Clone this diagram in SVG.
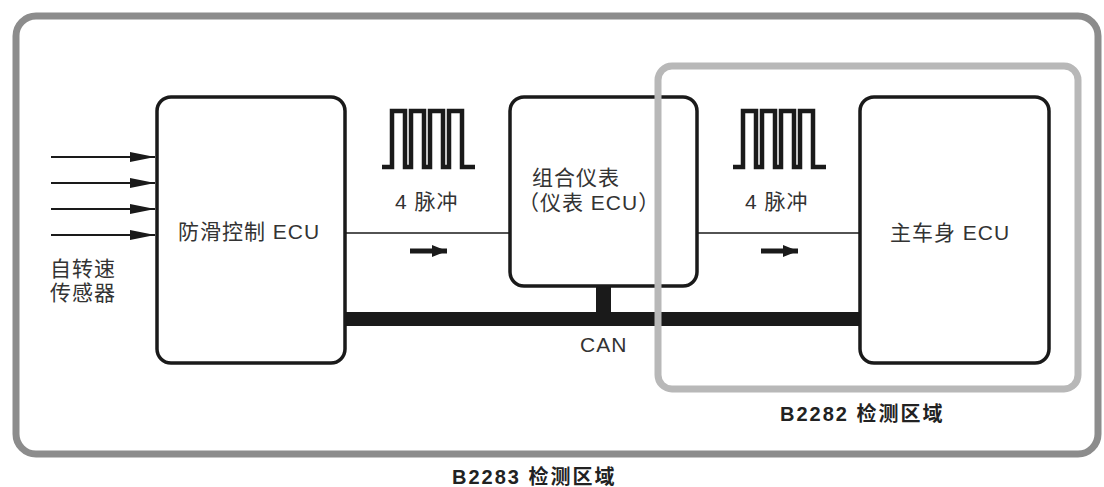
<svg xmlns="http://www.w3.org/2000/svg" width="1104" height="487" viewBox="0 0 1104 487">
<style>
.box{fill:#fff;stroke:#1a1a1a;stroke-width:3.5}
.t{font-family:"Liberation Sans","Noto Sans CJK SC",sans-serif;fill:#333;font-size:21px;letter-spacing:1px}
.b{font-family:"Liberation Sans","Noto Sans CJK SC",sans-serif;fill:#222;font-size:20px;font-weight:bold;letter-spacing:2px}
.in{stroke:#1a1a1a;stroke-width:2;fill:none}
.sig{stroke:#1a1a1a;stroke-width:1.6;fill:none}
.wave{stroke:#1a1a1a;stroke-width:4.5;fill:none;stroke-linejoin:miter}
</style>
<defs>
<marker id="ah" viewBox="0 0 25 10" refX="25" refY="5" markerWidth="25" markerHeight="10" markerUnits="userSpaceOnUse" orient="auto">
<path d="M0,0 L25,5 L0,10 Z" fill="#1a1a1a"/>
</marker>
<marker id="sa" viewBox="0 0 15 12" refX="15" refY="6" markerWidth="15" markerHeight="12" markerUnits="userSpaceOnUse" orient="auto">
<path d="M0,0 L15,6 L0,12 Z" fill="#1a1a1a"/>
</marker>
</defs>
<rect width="1104" height="487" fill="#fff"/>
<g id="zone-b2283">
<rect x="16" y="16" width="1082" height="438" rx="20" fill="none" stroke="#8c8c8c" stroke-width="7"/>
<text class="b" x="452" y="484">B2283 检测区域</text>
</g>
<g id="connectors">
<line class="in" x1="51" y1="157" x2="155" y2="157" marker-end="url(#ah)"/>
<line class="in" x1="51" y1="183" x2="155" y2="183" marker-end="url(#ah)"/>
<line class="in" x1="51" y1="209" x2="155" y2="209" marker-end="url(#ah)" stroke-width="1.5"/>
<line class="in" x1="51" y1="235" x2="155" y2="235" marker-end="url(#ah)"/>
<line class="sig" x1="345" y1="233" x2="510" y2="233"/>
<line class="sig" x1="697" y1="233" x2="860" y2="233"/>
<line x1="410" y1="251" x2="447" y2="251" stroke="#1a1a1a" stroke-width="5" marker-end="url(#sa)"/>
<line x1="761" y1="251" x2="798" y2="251" stroke="#1a1a1a" stroke-width="5" marker-end="url(#sa)"/>
<rect x="345" y="312" width="515" height="14" fill="#1a1a1a"/>
<rect x="596" y="286" width="15" height="30" fill="#1a1a1a"/>
<text class="t" x="580" y="352" font-size="20" letter-spacing="0">CAN</text>
</g>
<g id="wave1">
<path class="wave" d="M382,167 H392 V111 H405 V167 H411 V111 H424 V167 H430 V111 H443 V167 H449 V111 H462 V167 H475"/>
<text class="t" x="395" y="209">4 脉冲</text>
</g>
<g id="wave2">
<path class="wave" d="M733,167 H743 V111 H756 V167 H762 V111 H775 V167 H781 V111 H794 V167 H800 V111 H813 V167 H826"/>
<text class="t" x="745" y="209">4 脉冲</text>
</g>
<g id="sensor-label">
<text class="t" x="50" y="276" letter-spacing="0">自转速</text>
<text class="t" x="50" y="300" letter-spacing="0">传感器</text>
</g>
<g id="abs-ecu">
<rect class="box" x="157" y="97" width="188" height="266" rx="14"/>
<text class="t" x="178" y="239">防滑控制 ECU</text>
</g>
<g id="meter-ecu">
<rect class="box" x="510" y="97" width="187" height="189" rx="14"/>
<text class="t" x="532" y="185">组合仪表</text>
<text class="t" x="518" y="210">（仪表 ECU）</text>
</g>
<g id="body-ecu">
<rect class="box" x="860" y="97" width="189" height="266" rx="14"/>
<text class="t" x="890" y="240">主车身 ECU</text>
</g>
<g id="zone-b2282">
<rect x="658" y="66" width="420" height="323" rx="14" fill="none" stroke="#b8b8b8" stroke-width="7"/>
<text class="b" x="780" y="421">B2282 检测区域</text>
</g>
</svg>
